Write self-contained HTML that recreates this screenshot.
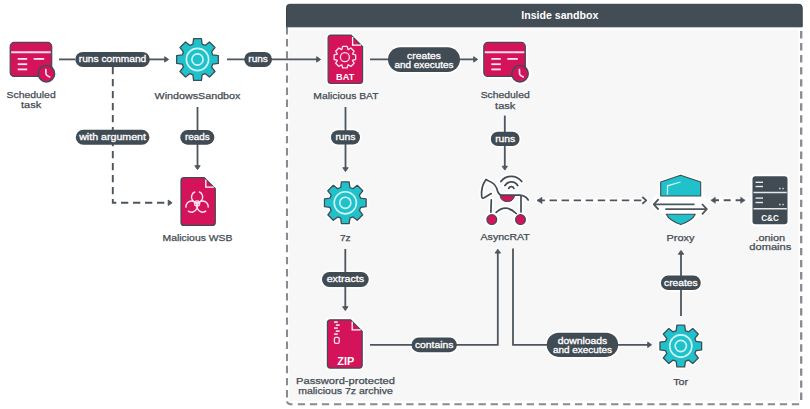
<!DOCTYPE html>
<html><head><meta charset="utf-8"><style>
html,body{margin:0;padding:0;background:#fff;}
svg{display:block;}
.wrap{width:810px;height:409px;}
text{font-family:"Liberation Sans",sans-serif;text-anchor:middle;}
.l{fill:#444c54;stroke:#444c54;stroke-width:0.25px;}
.p{fill:#fff;stroke:#fff;stroke-width:0.3px;}
.h{fill:#fff;font-weight:bold;font-size:10.5px;}
.ic{fill:#fff;font-weight:bold;}
</style></head><body><div class="wrap">
<svg width="810" height="409" viewBox="0 0 810 409">
<rect width="810" height="409" fill="#fff"/>
<rect x="289" y="29.8" width="509.5" height="371" fill="#f7f7f7"/>
<line x1="287" y1="27" x2="287" y2="398.5" stroke="#868c92" stroke-width="2.1" stroke-dasharray="7.4,4.7"/>
<path d="M287,401.3 Q287.5,404.3 292.5,404.3" fill="none" stroke="#868c92" stroke-width="2.1"/>
<line x1="297.8" y1="404.3" x2="800" y2="404.3" stroke="#868c92" stroke-width="2.1" stroke-dasharray="7.3,4.75"/>
<line x1="801.2" y1="31" x2="801.2" y2="400.2" stroke="#868c92" stroke-width="2.3" stroke-dasharray="7.4,4.65"/>
<path d="M286.5,7.5 Q286.5,4.3 289.7,4.3 L799,4.3 Q802.2,4.3 802.2,7.5 L802.2,26.8 L286.5,26.8Z" fill="#434d56" stroke="#37414a" stroke-width="1"/>
<text x="559.8" y="19.4" class="h" textLength="77" lengthAdjust="spacingAndGlyphs">Inside sandbox</text>
<rect x="73.7" y="50.3" width="77.7" height="18.2" rx="9.1" fill="#fff"/>
<rect x="74.2" y="128.20000000000002" width="76.8" height="18.2" rx="9.1" fill="#fff"/>
<rect x="178.70000000000002" y="128.5" width="37.2" height="17.8" rx="8.9" fill="#fff"/>
<rect x="242.6" y="50.3" width="31.0" height="18.2" rx="9.1" fill="#fff"/>
<rect x="386.4" y="45.6" width="75.2" height="27.9" rx="13.95" fill="#fff"/>
<rect x="329.4" y="128.6" width="32.2" height="17.6" rx="8.8" fill="#fff"/>
<rect x="320.4" y="270.4" width="49.900000000000006" height="18.1" rx="9.05" fill="#fff"/>
<rect x="489.2" y="130.1" width="32.0" height="17.6" rx="8.8" fill="#fff"/>
<rect x="409.9" y="335.9" width="48.6" height="17.9" rx="8.95" fill="#fff"/>
<rect x="545.1" y="331.09999999999997" width="74.7" height="27.4" rx="13.7" fill="#fff"/>
<rect x="659.3" y="273.9" width="43.1" height="17.8" rx="8.9" fill="#fff"/>
<rect x="10.2" y="42.4" width="41.5" height="34" rx="4" fill="#fff" stroke="#fff" stroke-width="4.5"/><circle cx="46.900000000000006" cy="73.6" r="11" fill="#fff"/><rect x="10.2" y="42.4" width="41.5" height="34" rx="4" fill="#d5135a" stroke="#414b54" stroke-width="1.2"/><line x1="11.2" y1="52.2" x2="50.7" y2="52.2" stroke="#fff" stroke-width="2" opacity="0.85"/><line x1="17.7" y1="58.9" x2="27.2" y2="58.9" stroke="#fff" stroke-width="1.8" opacity="0.9"/><line x1="17.7" y1="64.2" x2="27.2" y2="64.2" stroke="#fff" stroke-width="1.8" opacity="0.9"/><line x1="17.7" y1="69.4" x2="27.2" y2="69.4" stroke="#fff" stroke-width="1.8" opacity="0.9"/><line x1="33.7" y1="58.9" x2="44.2" y2="58.9" stroke="#fff" stroke-width="1.8" opacity="0.9"/><circle cx="46.400000000000006" cy="73.7" r="8.2" fill="#d5135a" stroke="#414b54" stroke-width="1.5"/><path d="M45.800000000000004,69.5 L46.00000000000001,73.9 Q46.60000000000001,75.9 49.60000000000001,76.9" fill="none" stroke="#fbe3ec" stroke-width="1.7" stroke-linecap="round"/>
<text x="31.10" y="98.00" class="l" style="font-size:9.2px" textLength="49.20" lengthAdjust="spacingAndGlyphs">Scheduled</text><text x="31.10" y="108.40" class="l" style="font-size:9.2px" textLength="20.20" lengthAdjust="spacingAndGlyphs">task</text>
<line x1="59" y1="59.4" x2="75" y2="59.4" stroke="#4d565e" stroke-width="1.8"/>
<path d="M112.8,67 L112.8,202.8 L168,202.8" fill="none" stroke="#4d565e" stroke-width="1.9" stroke-dasharray="7.3,4.7"/>
<path d="M172.1,202.8 L168.2,200.1 L168.2,205.5Z" fill="#4d565e" stroke="#4d565e" stroke-width="0.9" stroke-linejoin="round"/>
<line x1="149" y1="59.4" x2="166" y2="59.4" stroke="#4d565e" stroke-width="1.8"/><path d="M168.6,59.4 L164.7,56.699999999999996 L164.7,62.1Z" fill="#4d565e" stroke="#4d565e" stroke-width="0.9" stroke-linejoin="round"/>
<rect x="75.3" y="51.9" width="74.5" height="15" rx="7.5" fill="#414b54"/><text x="112.55" y="62.20" class="p" style="font-size:9px" textLength="67.50" lengthAdjust="spacingAndGlyphs">runs command</text>
<rect x="75.8" y="129.8" width="73.6" height="15" rx="7.5" fill="#414b54"/><text x="112.60" y="140.20" class="p" style="font-size:9px" textLength="66.80" lengthAdjust="spacingAndGlyphs">with argument</text>
<path d="M192.90,44.18 L193.60,38.66 L201.40,38.66 L202.10,44.18 L205.08,45.41 L209.48,42.01 L214.99,47.52 L211.59,51.92 L212.82,54.90 L218.34,55.60 L218.34,63.40 L212.82,64.10 L211.59,67.08 L214.99,71.48 L209.48,76.99 L205.08,73.59 L202.10,74.82 L201.40,80.34 L193.60,80.34 L192.90,74.82 L189.92,73.59 L185.52,76.99 L180.01,71.48 L183.41,67.08 L182.18,64.10 L176.66,63.40 L176.66,55.60 L182.18,54.90 L183.41,51.92 L180.01,47.52 L185.52,42.01 L189.92,45.41Z" fill="#fff" stroke="#fff" stroke-width="4.5" stroke-linejoin="round"/><path d="M192.90,44.18 L193.60,38.66 L201.40,38.66 L202.10,44.18 L205.08,45.41 L209.48,42.01 L214.99,47.52 L211.59,51.92 L212.82,54.90 L218.34,55.60 L218.34,63.40 L212.82,64.10 L211.59,67.08 L214.99,71.48 L209.48,76.99 L205.08,73.59 L202.10,74.82 L201.40,80.34 L193.60,80.34 L192.90,74.82 L189.92,73.59 L185.52,76.99 L180.01,71.48 L183.41,67.08 L182.18,64.10 L176.66,63.40 L176.66,55.60 L182.18,54.90 L183.41,51.92 L180.01,47.52 L185.52,42.01 L189.92,45.41Z" fill="#1fc2cb" stroke="#414b54" stroke-width="1.3" stroke-linejoin="round"/><circle cx="197.5" cy="59.5" r="11.1" fill="none" stroke="#d2f5f7" stroke-width="1.6"/><circle cx="197.5" cy="59.5" r="5.6" fill="none" stroke="#d2f5f7" stroke-width="1.6"/>
<text x="197.50" y="99.00" class="l" style="font-size:9.2px" textLength="85.80" lengthAdjust="spacingAndGlyphs">WindowsSandbox</text>
<line x1="197.5" y1="107" x2="197.5" y2="167" stroke="#4d565e" stroke-width="1.8"/><path d="M197.5,169.6 L194.8,165.7 L200.2,165.7Z" fill="#4d565e" stroke="#4d565e" stroke-width="0.9" stroke-linejoin="round"/>
<rect x="180.3" y="130.1" width="34" height="14.6" rx="7.3" fill="#414b54"/><text x="197.30" y="140.20" class="p" style="font-size:9px" textLength="24.70" lengthAdjust="spacingAndGlyphs">reads</text>
<path d="M184,177.7 L204.3,177.7 L215.3,188.7 L215.3,222.39999999999998 Q215.3,225.39999999999998 212.3,225.39999999999998 L184,225.39999999999998 Q181,225.39999999999998 181,222.39999999999998 L181,180.7 Q181,177.7 184,177.7Z" fill="#fff" stroke="#fff" stroke-width="4.5" stroke-linejoin="round"/><path d="M184,177.7 L204.3,177.7 L215.3,188.7 L215.3,222.39999999999998 Q215.3,225.39999999999998 212.3,225.39999999999998 L184,225.39999999999998 Q181,225.39999999999998 181,222.39999999999998 L181,180.7 Q181,177.7 184,177.7Z" fill="#d5135a" stroke="#414b54" stroke-width="1.2" stroke-linejoin="round"/><path d="M205.8,179.7 L205.8,187.2 L213.8,187.2" fill="none" stroke="#fff" stroke-width="1.3"/>
<path d="M199.02,191.74 A5.6,5.6 0 1 1 195.18,191.74" fill="none" stroke="#fbe3ec" stroke-width="1.4"/><path d="M206.24,210.89 A5.6,5.6 0 1 1 208.16,207.57" fill="none" stroke="#fbe3ec" stroke-width="1.4"/><path d="M186.04,207.57 A5.6,5.6 0 1 1 187.96,210.89" fill="none" stroke="#fbe3ec" stroke-width="1.4"/><circle cx="197.1" cy="203.4" r="2.6" fill="none" stroke="#fbe3ec" stroke-width="1.2"/><path d="M197.1,202.20000000000002 L198.2,204.20000000000002 L196.0,204.20000000000002Z" fill="#fbe3ec"/>
<text x="197.50" y="241.00" class="l" style="font-size:9.2px" textLength="69.80" lengthAdjust="spacingAndGlyphs">Malicious WSB</text>
<line x1="227" y1="59.4" x2="318" y2="59.4" stroke="#4d565e" stroke-width="1.8"/><path d="M320.6,59.4 L316.7,56.699999999999996 L316.7,62.1Z" fill="#4d565e" stroke="#4d565e" stroke-width="0.9" stroke-linejoin="round"/>
<rect x="244.2" y="51.9" width="27.8" height="15" rx="7.5" fill="#414b54"/><text x="258.10" y="62.20" class="p" style="font-size:9px" textLength="19.50" lengthAdjust="spacingAndGlyphs">runs</text>
<path d="M331.1,35.1 L351.1,35.1 L362.6,46.6 L362.6,80.5 Q362.6,83.5 359.6,83.5 L331.1,83.5 Q328.1,83.5 328.1,80.5 L328.1,38.1 Q328.1,35.1 331.1,35.1Z" fill="#fff" stroke="#fff" stroke-width="4.5" stroke-linejoin="round"/><path d="M331.1,35.1 L351.1,35.1 L362.6,46.6 L362.6,80.5 Q362.6,83.5 359.6,83.5 L331.1,83.5 Q328.1,83.5 328.1,80.5 L328.1,38.1 Q328.1,35.1 331.1,35.1Z" fill="#d5135a" stroke="#414b54" stroke-width="1.2" stroke-linejoin="round"/><path d="M352.6,37.1 L352.6,45.1 L361.1,45.1" fill="none" stroke="#fff" stroke-width="1.3"/>
<text x="345.2" y="79.6" class="ic" style="font-size:9.3px" textLength="18.2" lengthAdjust="spacingAndGlyphs">BAT</text>
<path d="M341.90,49.46 L342.60,46.44 L347.20,46.44 L347.90,49.46 L348.25,49.61 L350.88,47.97 L354.13,51.22 L352.49,53.85 L352.64,54.20 L355.66,54.90 L355.66,59.50 L352.64,60.20 L352.49,60.55 L354.13,63.18 L350.88,66.43 L348.25,64.79 L347.90,64.94 L347.20,67.96 L342.60,67.96 L341.90,64.94 L341.55,64.79 L338.92,66.43 L335.67,63.18 L337.31,60.55 L337.16,60.20 L334.14,59.50 L334.14,54.90 L337.16,54.20 L337.31,53.85 L335.67,51.22 L338.92,47.97 L341.55,49.61Z" fill="none" stroke="#fbe3ec" stroke-width="1.3" stroke-linejoin="round"/><circle cx="344.9" cy="57.2" r="4.5" fill="none" stroke="#fbe3ec" stroke-width="1.3"/>
<text x="345.90" y="99.00" class="l" style="font-size:9.2px" textLength="65.10" lengthAdjust="spacingAndGlyphs">Malicious BAT</text>
<line x1="370" y1="59.4" x2="475" y2="59.4" stroke="#4d565e" stroke-width="1.8"/><path d="M477.6,59.4 L473.7,56.699999999999996 L473.7,62.1Z" fill="#4d565e" stroke="#4d565e" stroke-width="0.9" stroke-linejoin="round"/>
<rect x="388" y="47.2" width="72" height="24.7" rx="12.35" fill="#414b54"/><text x="424.00" y="58.60" class="p" style="font-size:9px" textLength="33.80" lengthAdjust="spacingAndGlyphs">creates</text><text x="424.00" y="67.60" class="p" style="font-size:9px" textLength="59.20" lengthAdjust="spacingAndGlyphs">and executes</text>
<rect x="483.8" y="42.4" width="41.5" height="34" rx="4" fill="#fff" stroke="#fff" stroke-width="4.5"/><circle cx="520.5" cy="73.6" r="11" fill="#fff"/><rect x="483.8" y="42.4" width="41.5" height="34" rx="4" fill="#d5135a" stroke="#414b54" stroke-width="1.2"/><line x1="484.8" y1="52.2" x2="524.3" y2="52.2" stroke="#fff" stroke-width="2" opacity="0.85"/><line x1="491.3" y1="58.9" x2="500.8" y2="58.9" stroke="#fff" stroke-width="1.8" opacity="0.9"/><line x1="491.3" y1="64.2" x2="500.8" y2="64.2" stroke="#fff" stroke-width="1.8" opacity="0.9"/><line x1="491.3" y1="69.4" x2="500.8" y2="69.4" stroke="#fff" stroke-width="1.8" opacity="0.9"/><line x1="507.3" y1="58.9" x2="517.8" y2="58.9" stroke="#fff" stroke-width="1.8" opacity="0.9"/><circle cx="520.0" cy="73.7" r="8.2" fill="#d5135a" stroke="#414b54" stroke-width="1.5"/><path d="M519.4,69.5 L519.6,73.9 Q520.2,75.9 523.2,76.9" fill="none" stroke="#fbe3ec" stroke-width="1.7" stroke-linecap="round"/>
<text x="505.20" y="98.30" class="l" style="font-size:9.2px" textLength="49.10" lengthAdjust="spacingAndGlyphs">Scheduled</text><text x="505.20" y="108.50" class="l" style="font-size:9.2px" textLength="20.20" lengthAdjust="spacingAndGlyphs">task</text>
<line x1="345.5" y1="107" x2="345.5" y2="169" stroke="#4d565e" stroke-width="1.8"/><path d="M345.5,171.6 L342.8,167.7 L348.2,167.7Z" fill="#4d565e" stroke="#4d565e" stroke-width="0.9" stroke-linejoin="round"/>
<rect x="331" y="130.2" width="29" height="14.4" rx="7.2" fill="#414b54"/><text x="345.50" y="140.20" class="p" style="font-size:9px" textLength="20.10" lengthAdjust="spacingAndGlyphs">runs</text>
<path d="M340.70,187.48 L341.40,181.96 L349.20,181.96 L349.90,187.48 L352.88,188.71 L357.28,185.31 L362.79,190.82 L359.39,195.22 L360.62,198.20 L366.14,198.90 L366.14,206.70 L360.62,207.40 L359.39,210.38 L362.79,214.78 L357.28,220.29 L352.88,216.89 L349.90,218.12 L349.20,223.64 L341.40,223.64 L340.70,218.12 L337.72,216.89 L333.32,220.29 L327.81,214.78 L331.21,210.38 L329.98,207.40 L324.46,206.70 L324.46,198.90 L329.98,198.20 L331.21,195.22 L327.81,190.82 L333.32,185.31 L337.72,188.71Z" fill="#fff" stroke="#fff" stroke-width="4.5" stroke-linejoin="round"/><path d="M340.70,187.48 L341.40,181.96 L349.20,181.96 L349.90,187.48 L352.88,188.71 L357.28,185.31 L362.79,190.82 L359.39,195.22 L360.62,198.20 L366.14,198.90 L366.14,206.70 L360.62,207.40 L359.39,210.38 L362.79,214.78 L357.28,220.29 L352.88,216.89 L349.90,218.12 L349.20,223.64 L341.40,223.64 L340.70,218.12 L337.72,216.89 L333.32,220.29 L327.81,214.78 L331.21,210.38 L329.98,207.40 L324.46,206.70 L324.46,198.90 L329.98,198.20 L331.21,195.22 L327.81,190.82 L333.32,185.31 L337.72,188.71Z" fill="#1fc2cb" stroke="#414b54" stroke-width="1.3" stroke-linejoin="round"/><circle cx="345.3" cy="202.8" r="11.1" fill="none" stroke="#d2f5f7" stroke-width="1.6"/><circle cx="345.3" cy="202.8" r="5.6" fill="none" stroke="#d2f5f7" stroke-width="1.6"/>
<text x="345.30" y="241.30" class="l" style="font-size:9.2px" textLength="10.60" lengthAdjust="spacingAndGlyphs">7z</text>
<line x1="345.3" y1="249" x2="345.3" y2="308" stroke="#4d565e" stroke-width="1.8"/><path d="M345.3,310.6 L342.6,306.7 L348.0,306.7Z" fill="#4d565e" stroke="#4d565e" stroke-width="0.9" stroke-linejoin="round"/>
<rect x="322" y="272" width="46.7" height="14.9" rx="7.45" fill="#414b54"/><text x="345.35" y="282.40" class="p" style="font-size:9px" textLength="37.40" lengthAdjust="spacingAndGlyphs">extracts</text>
<path d="M330.4,319.8 L350.7,319.8 L362.2,331.3 L362.2,365.1 Q362.2,368.1 359.2,368.1 L330.4,368.1 Q327.4,368.1 327.4,365.1 L327.4,322.8 Q327.4,319.8 330.4,319.8Z" fill="#fff" stroke="#fff" stroke-width="4.5" stroke-linejoin="round"/><path d="M330.4,319.8 L350.7,319.8 L362.2,331.3 L362.2,365.1 Q362.2,368.1 359.2,368.1 L330.4,368.1 Q327.4,368.1 327.4,365.1 L327.4,322.8 Q327.4,319.8 330.4,319.8Z" fill="#d5135a" stroke="#414b54" stroke-width="1.2" stroke-linejoin="round"/><path d="M352.2,321.8 L352.2,329.8 L360.7,329.8" fill="none" stroke="#fff" stroke-width="1.3"/>
<text x="345.8" y="364.6" class="ic" style="font-size:10.3px" textLength="17" lengthAdjust="spacingAndGlyphs">ZIP</text>
<text x="345.50" y="383.60" class="l" style="font-size:9.2px" textLength="98.80" lengthAdjust="spacingAndGlyphs">Password-protected</text><text x="345.50" y="393.80" class="l" style="font-size:9.2px" textLength="94.60" lengthAdjust="spacingAndGlyphs">malicious 7z archive</text>
<line x1="504.8" y1="115.6" x2="504.8" y2="167.5" stroke="#4d565e" stroke-width="1.8"/><path d="M504.8,170.1 L502.1,166.2 L507.5,166.2Z" fill="#4d565e" stroke="#4d565e" stroke-width="0.9" stroke-linejoin="round"/>
<rect x="490.8" y="131.7" width="28.8" height="14.4" rx="7.2" fill="#414b54"/><text x="505.20" y="141.90" class="p" style="font-size:9px" textLength="20.10" lengthAdjust="spacingAndGlyphs">runs</text>
<text x="505.20" y="240.30" class="l" style="font-size:9.2px" textLength="49.30" lengthAdjust="spacingAndGlyphs">AsyncRAT</text>
<path d="M370,344.8 L497.8,344.8 L497.8,252" fill="none" stroke="#4d565e" stroke-width="1.8"/>
<path d="M497.8,249.2 L495.1,253.1 L500.5,253.1Z" fill="#4d565e" stroke="#4d565e" stroke-width="0.9" stroke-linejoin="round"/>
<rect x="411.5" y="337.5" width="45.4" height="14.7" rx="7.35" fill="#414b54"/><text x="434.20" y="347.90" class="p" style="font-size:9px" textLength="38.50" lengthAdjust="spacingAndGlyphs">contains</text>
<path d="M513,248.4 L513,344.8 L649,344.8" fill="none" stroke="#4d565e" stroke-width="1.8"/>
<path d="M651.6,344.8 L647.7,342.1 L647.7,347.5Z" fill="#4d565e" stroke="#4d565e" stroke-width="0.9" stroke-linejoin="round"/>
<rect x="546.7" y="332.7" width="71.5" height="24.2" rx="12.1" fill="#414b54"/><text x="582.45" y="343.80" class="p" style="font-size:9px" textLength="49.60" lengthAdjust="spacingAndGlyphs">downloads</text><text x="582.45" y="352.80" class="p" style="font-size:9px" textLength="59.10" lengthAdjust="spacingAndGlyphs">and executes</text>
<path d="M676.20,330.68 L676.90,325.16 L684.70,325.16 L685.40,330.68 L688.38,331.91 L692.78,328.51 L698.29,334.02 L694.89,338.42 L696.12,341.40 L701.64,342.10 L701.64,349.90 L696.12,350.60 L694.89,353.58 L698.29,357.98 L692.78,363.49 L688.38,360.09 L685.40,361.32 L684.70,366.84 L676.90,366.84 L676.20,361.32 L673.22,360.09 L668.82,363.49 L663.31,357.98 L666.71,353.58 L665.48,350.60 L659.96,349.90 L659.96,342.10 L665.48,341.40 L666.71,338.42 L663.31,334.02 L668.82,328.51 L673.22,331.91Z" fill="#fff" stroke="#fff" stroke-width="4.5" stroke-linejoin="round"/><path d="M676.20,330.68 L676.90,325.16 L684.70,325.16 L685.40,330.68 L688.38,331.91 L692.78,328.51 L698.29,334.02 L694.89,338.42 L696.12,341.40 L701.64,342.10 L701.64,349.90 L696.12,350.60 L694.89,353.58 L698.29,357.98 L692.78,363.49 L688.38,360.09 L685.40,361.32 L684.70,366.84 L676.90,366.84 L676.20,361.32 L673.22,360.09 L668.82,363.49 L663.31,357.98 L666.71,353.58 L665.48,350.60 L659.96,349.90 L659.96,342.10 L665.48,341.40 L666.71,338.42 L663.31,334.02 L668.82,328.51 L673.22,331.91Z" fill="#1fc2cb" stroke="#414b54" stroke-width="1.3" stroke-linejoin="round"/><circle cx="680.8" cy="346" r="11.1" fill="none" stroke="#d2f5f7" stroke-width="1.6"/><circle cx="680.8" cy="346" r="5.6" fill="none" stroke="#d2f5f7" stroke-width="1.6"/>
<text x="680.70" y="385.00" class="l" style="font-size:9.2px" textLength="14.80" lengthAdjust="spacingAndGlyphs">Tor</text>
<line x1="681" y1="316" x2="681" y2="253" stroke="#4d565e" stroke-width="1.8"/><path d="M681,250.4 L678.3,254.3 L683.7,254.3Z" fill="#4d565e" stroke="#4d565e" stroke-width="0.9" stroke-linejoin="round"/>
<rect x="660.9" y="275.5" width="39.9" height="14.6" rx="7.3" fill="#414b54"/><text x="680.85" y="285.90" class="p" style="font-size:9px" textLength="33.50" lengthAdjust="spacingAndGlyphs">creates</text>
<text x="680.50" y="240.50" class="l" style="font-size:9.2px" textLength="28.00" lengthAdjust="spacingAndGlyphs">Proxy</text>
<line x1="537" y1="200.4" x2="646" y2="200.4" stroke="#fff" stroke-width="5" stroke-linecap="round"/>
<line x1="537.5" y1="200.4" x2="642" y2="200.4" stroke="#4d565e" stroke-width="1.9" stroke-dasharray="7.4,4.65"/>
<path d="M537,200.4 L542,197.3 L542,203.5Z" fill="#4d565e" stroke="#4d565e" stroke-width="0.6" stroke-linejoin="round"/>
<path d="M642.3,197 L646.3,200.4 L642.3,203.8" fill="none" stroke="#4d565e" stroke-width="1.8" stroke-linejoin="round"/>
<line x1="710" y1="200.3" x2="746" y2="200.3" stroke="#fff" stroke-width="5" stroke-linecap="round"/>
<line x1="713" y1="200.3" x2="742" y2="200.3" stroke="#4d565e" stroke-width="1.9" stroke-dasharray="6,4.7,7,4.9,6"/>
<path d="M710.8,200.3 L715.3,197.3 L715.3,203.3Z" fill="#4d565e" stroke="#4d565e" stroke-width="0.6" stroke-linejoin="round"/>
<path d="M745.2,200.3 L740.7,197.3 L740.7,203.3Z" fill="#4d565e" stroke="#4d565e" stroke-width="0.6" stroke-linejoin="round"/>
<path d="M486,179.6 L488.3,180.8 Q494.5,183 496.8,188.5 Q498.2,194.8 501.5,195.1 L519.5,195.1 Q525.5,195.3 528.2,200" fill="none" stroke="#fff" stroke-width="5.0" stroke-linecap="round" stroke-linejoin="round"/><path d="M486,179.6 C482.6,184 481.2,191 481.7,196.6 Q482,198.6 484.2,197.8 L491.2,193.6" fill="none" stroke="#fff" stroke-width="5.0" stroke-linecap="round" stroke-linejoin="round"/><path d="M491.3,199.8 L490.9,212.2" fill="none" stroke="#fff" stroke-width="5.0" stroke-linecap="round"/><path d="M521,196 L521,212" fill="none" stroke="#fff" stroke-width="5.0" stroke-linecap="round"/><path d="M496.2,212.4 Q506,203.5 516.2,213.5" fill="none" stroke="#fff" stroke-width="5.0" stroke-linecap="round"/><path d="M500,195.6 L514.6,195.6 Q513.5,201.6 507.3,201.6 Q501,201.6 500,195.6Z" fill="#fff" stroke="#fff" stroke-width="4"/><circle cx="491.8" cy="219.6" r="4.9" fill="#fff" stroke="#fff" stroke-width="5"/><circle cx="520.5" cy="219.6" r="4.9" fill="#fff" stroke="#fff" stroke-width="5"/><path d="M508.67,188.44 A2.8,2.8 0 0 1 513.93,188.44" fill="none" stroke="#fff" stroke-width="5" stroke-linecap="round"/><path d="M504.94,185.43 A7.5,7.5 0 0 1 517.66,185.43" fill="none" stroke="#fff" stroke-width="5" stroke-linecap="round"/><path d="M500.84,181.52 A13.1,13.1 0 0 1 521.76,181.52" fill="none" stroke="#fff" stroke-width="5" stroke-linecap="round"/>
<path d="M486,179.6 L488.3,180.8 Q494.5,183 496.8,188.5 Q498.2,194.8 501.5,195.1 L519.5,195.1 Q525.5,195.3 528.2,200" fill="none" stroke="#414b54" stroke-width="1.7" stroke-linecap="round" stroke-linejoin="round"/><path d="M486,179.6 C482.6,184 481.2,191 481.7,196.6 Q482,198.6 484.2,197.8 L491.2,193.6" fill="none" stroke="#414b54" stroke-width="1.7" stroke-linecap="round" stroke-linejoin="round"/><path d="M491.3,199.8 L490.9,212.2" fill="none" stroke="#414b54" stroke-width="1.7" stroke-linecap="round"/><path d="M521,196 L521,212" fill="none" stroke="#414b54" stroke-width="1.7" stroke-linecap="round"/><path d="M496.2,212.4 Q506,203.5 516.2,213.5" fill="none" stroke="#414b54" stroke-width="1.7" stroke-linecap="round"/><path d="M500,195.6 L514.6,195.6 Q513.5,201.6 507.3,201.6 Q501,201.6 500,195.6Z" fill="#d5135a" stroke="#414b54" stroke-width="1"/><circle cx="491.8" cy="219.6" r="4.9" fill="#d5135a" stroke="#414b54" stroke-width="1.2"/><circle cx="520.5" cy="219.6" r="4.9" fill="#d5135a" stroke="#414b54" stroke-width="1.2"/><path d="M508.67,188.44 A2.8,2.8 0 0 1 513.93,188.44" fill="none" stroke="#414b54" stroke-width="1.8" stroke-linecap="round"/><path d="M504.94,185.43 A7.5,7.5 0 0 1 517.66,185.43" fill="none" stroke="#414b54" stroke-width="1.8" stroke-linecap="round"/><path d="M500.84,181.52 A13.1,13.1 0 0 1 521.76,181.52" fill="none" stroke="#414b54" stroke-width="1.8" stroke-linecap="round"/>
<path d="M659,194 L702.5,194 L709.5,209.2 L680.7,227 L651.5,204.3Z" fill="#fff" stroke="#fff" stroke-width="3" stroke-linejoin="round"/><path d="M660.7,182 L680.6,175.3 L700.7,182 L700.7,196 L660.7,196Z" fill="#fff" stroke="#fff" stroke-width="4" stroke-linejoin="round"/><path d="M660.7,182 L680.6,175.3 L700.7,182 L700.7,196 L660.7,196Z" fill="#1fc2cb" stroke="#414b54" stroke-width="1.1" stroke-linejoin="round"/><path d="M667.4,194.5 L667.6,185.8 L680.5,182" fill="none" stroke="#d8f7f8" stroke-width="1.3"/><path d="M666.3,214.3 L695.3,214.3 Q692.5,220.5 680.8,224.6 Q669,220.5 666.3,214.3Z" fill="#1fc2cb" stroke="#414b54" stroke-width="1.1" stroke-linejoin="round"/><line x1="655" y1="204.4" x2="694.6" y2="204.4" stroke="#4d565e" stroke-width="1.8"/><path d="M658.6,199.2 L653.8,204.4 L658.6,209.6" fill="none" stroke="#4d565e" stroke-width="1.8" stroke-linejoin="round"/><line x1="665.3" y1="209.2" x2="706.5" y2="209.2" stroke="#4d565e" stroke-width="1.8"/><path d="M702,204 L706.8,209.2 L702,214.4" fill="none" stroke="#4d565e" stroke-width="1.8" stroke-linejoin="round"/>
<rect x="752.5" y="176.2" width="35" height="48" rx="3" fill="#fff" stroke="#fff" stroke-width="4"/><rect x="752.5" y="176.2" width="35" height="48" rx="3" fill="#414b54"/><line x1="755.5" y1="182.3" x2="763" y2="182.3" stroke="#e6e8ea" stroke-width="1.4"/><line x1="755.5" y1="186.5" x2="763" y2="186.5" stroke="#e6e8ea" stroke-width="1.4"/><line x1="753.5" y1="192.5" x2="786.8" y2="192.5" stroke="#e6e8ea" stroke-width="1.4"/><line x1="755.5" y1="198.1" x2="763" y2="198.1" stroke="#e6e8ea" stroke-width="1.4"/><line x1="755.5" y1="202.5" x2="763" y2="202.5" stroke="#e6e8ea" stroke-width="1.4"/><line x1="753.5" y1="208.7" x2="786.8" y2="208.7" stroke="#e6e8ea" stroke-width="1.4"/><rect x="779" y="187.8" width="1.6" height="1.5" fill="#c9cdd1"/><rect x="782.2" y="187.8" width="1.6" height="1.5" fill="#c9cdd1"/><rect x="779" y="203.8" width="1.6" height="1.5" fill="#c9cdd1"/><rect x="782.2" y="203.8" width="1.6" height="1.5" fill="#c9cdd1"/><text x="770" y="221.4" class="ic" style="font-size:9px" textLength="17.5" lengthAdjust="spacingAndGlyphs">C&amp;C</text>
<text x="770.30" y="240.60" class="l" style="font-size:9.2px" textLength="29.80" lengthAdjust="spacingAndGlyphs">.onion</text><text x="770.30" y="250.20" class="l" style="font-size:9.2px" textLength="42.00" lengthAdjust="spacingAndGlyphs">domains</text>
<rect x="334.0" y="321.3" width="3.8" height="1.6" fill="#fbe3ec"/><rect x="335.8" y="324.3" width="3.8" height="1.6" fill="#fbe3ec"/><rect x="334.0" y="327.3" width="3.8" height="1.6" fill="#fbe3ec"/><rect x="335.8" y="330.3" width="3.8" height="1.6" fill="#fbe3ec"/><rect x="334.0" y="333.3" width="3.8" height="1.6" fill="#fbe3ec"/><rect x="334.4" y="337.4" width="4.8" height="6" rx="1.4" fill="none" stroke="#fbe3ec" stroke-width="1.3"/>
</svg></div>
</body></html>
